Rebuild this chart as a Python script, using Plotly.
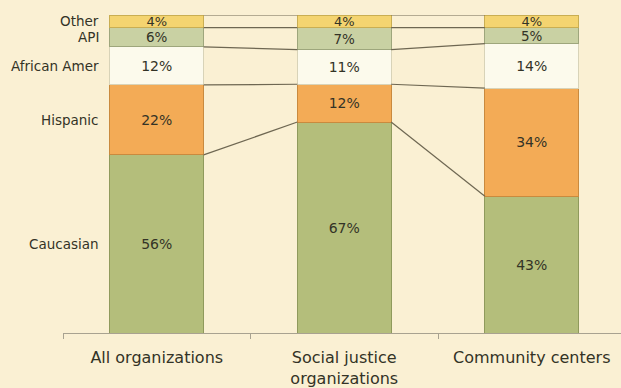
import plotly.graph_objects as go

# Share of staff by race/ethnicity, per organization type
categories = ["All organizations", "Social justice<br>organizations", "Community centers"]
groups = ["Caucasian", "Hispanic", "African Amer", "API", "Other"]
caucasian = [56, 67, 43]
hispanic = [22, 12, 34]
african_amer = [12, 11, 14]
api = [6, 7, 5]
other = [4, 4, 4]

series = [caucasian, hispanic, african_amer, api, other]
fills = ["#B4BE7B", "#F3AB56", "#FCFAEC", "#C9D1A3", "#F4D470"]
edges = ["#8F9A5C", "#C98A3E", "#D8D3B8", "#9EA67C", "#C9AE52"]
label_sizes = [14, 14, 14, 13.5, 13]

BG = "#FAF0D3"
BAR_W = 0.5
TEXT = "#333326"
FONT = "DejaVu Sans, Verdana, sans-serif"

fig = go.Figure()

for name, vals, fill, edge, fs in zip(groups, series, fills, edges, label_sizes):
    fig.add_trace(go.Bar(
        x=categories, y=vals, name=name, width=BAR_W,
        marker=dict(color=fill, line=dict(color=edge, width=1)),
        text=[f"{v}%" for v in vals], textposition="inside",
        insidetextanchor="middle", constraintext="none",
        textfont=dict(family=FONT, size=fs, color=TEXT),
        hoverinfo="skip", showlegend=False,
    ))

# Normalised cumulative tops of each segment (bars are drawn as 100% stacks)
totals = [sum(s[i] for s in series) for i in range(len(categories))]
tops = []
run = [0.0] * len(categories)
for vals in series:
    run = [r + v for r, v in zip(run, vals)]
    tops.append([100.0 * r / t for r, t in zip(run, totals)])

# Series lines joining segment tops of neighbouring bars
for top in tops:
    xs, ys = [], []
    for i in range(len(categories) - 1):
        xs += [i + BAR_W / 2, i + 1 - BAR_W / 2, None]
        ys += [top[i], top[i + 1], None]
    fig.add_trace(go.Scatter(
        x=xs, y=ys, xaxis="x2", mode="lines",
        line=dict(color="#6E6752", width=1.2),
        hoverinfo="skip", showlegend=False,
    ))

# Group names beside the first bar
prev = 0.0
for name, top in zip(groups, tops):
    mid = (prev + top[0]) / 2
    prev = top[0]
    fig.add_annotation(
        x=-BAR_W / 2, y=mid, xref="x2", yref="y", xanchor="right",
        xshift=-9, text=name, showarrow=False,
        font=dict(family=FONT, size=13.5, color=TEXT),
    )

xrange = [-0.5, 2.476]
fig.update_layout(
    width=621, height=388,
    margin=dict(l=63, r=0, t=15, b=55),
    paper_bgcolor=BG, plot_bgcolor=BG,
    barmode="stack", barnorm="percent",
    xaxis=dict(
        type="category", range=xrange, tickson="boundaries",
        ticks="outside", ticklen=5, tickcolor="#A8A290",
        ticklabelstandoff=10,
        showline=True, linecolor="#A8A290", linewidth=1,
        showgrid=False, zeroline=False,
        tickfont=dict(family=FONT, size=16, color=TEXT),
    ),
    xaxis2=dict(
        type="linear", range=xrange, overlaying="x", visible=False,
    ),
    yaxis=dict(range=[0, 100], visible=False, showgrid=False, zeroline=False),
)

fig.write_html("out.html")
